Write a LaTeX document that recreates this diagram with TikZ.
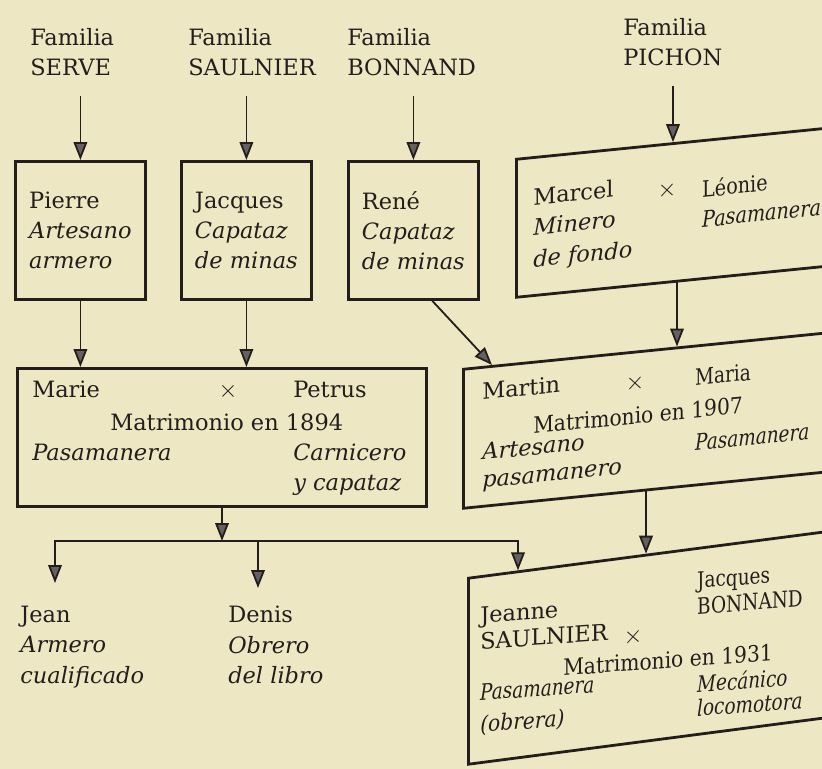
\documentclass[tikz,border=0pt]{standalone}
\usepackage{fontspec}
\setmainfont{DejaVu Serif}
\usepackage{tikz}
\usetikzlibrary{arrows.meta}
\usepackage{xcolor}
\definecolor{paper}{RGB}{238,231,196}
\definecolor{ink}{RGB}{35,30,28}

\tikzset{
	box/.style={draw=ink, line width=0.7mm, inner sep=0pt},
	pbox/.style={box, anchor=north west, align=left, minimum width=32.5mm, minimum height=34.5mm, text=ink},
	txt/.style={inner sep=0pt, anchor=base west, text=ink},
	ntxt/.style={txt, xscale=0.82},
	mtxt/.style={txt, xscale=0.9},
	cross/.style={inner sep=0pt, anchor=base, text=ink},
	lbl/.style={inner sep=0pt, anchor=north west, align=left, text=ink},
	arr/.style={draw=ink, line width=0.45mm, -{Triangle[length=4.5mm,width=3.4mm,fill=ink!70]}},
}

\begin{document}
\begin{tikzpicture}[x=0.25mm, y=-0.25mm, font=\fontsize{16}{21.5}\selectfont]
					\useasboundingbox (0,0) rectangle (822,769);
					\fill[paper] (0,0) rectangle (822,769);
					\clip (0,0) rectangle (822,769);
					
					% familias
					\node[lbl] (serve) at (30,28) {Familia\\SERVE};
					\node[lbl] (saulnier) at (188,28) {Familia\\SAULNIER};
					\node[lbl] (bonnand) at (347,28) {Familia\\BONNAND};
					\node[lbl] (pichon) at (623,18) {Familia\\PICHON};
					
					\node[pbox] (pierre) at (14,160) {Pierre\\\textit{Artesano}\\\textit{armero}};
					\node[pbox] (jacques) at (180,160) {Jacques\\\textit{Capataz}\\\textit{de minas}};
					\node[pbox] (rene) at (347,160) {René\\\textit{Capataz}\\\textit{de minas}};
					
					\begin{scope}[shift={(515,158)}, yslant=0.1, transform shape, ntxt/.append style={xscale=1.04}]
						\node[box, anchor=north west, minimum width=100mm, minimum height=34.5mm] (marcel) at (0,0) {};
						\coordinate (marcel-in) at (158,0);
						\coordinate (marcel-out) at (162,138);
						\node[txt] (marcel-name) at (18,49) {Marcel};
						\node[txt] (marcel-job) at (18,79) {\textit{Minero}};
						\node[txt] (marcel-job2) at (18,111) {\textit{de fondo}};
						\node[cross] (marcel-x) at (152,54) {$\times$};
						\node[ntxt] (leonie-name) at (187,58) {Léonie};
						\node[ntxt] (leonie-job) at (187,88) {\textit{Pasamanera}};
					\end{scope}
					
					% matrimonio 1894
					\node[box, anchor=north west, minimum width=102.25mm, minimum height=34.5mm] (marie) at (16,367) {};
					\node[txt] (marie-name) at (32,397) {Marie};
					\node[cross] (marie-x) at (228,397) {$\times$};
					\node[txt] (petrus-name) at (293,397) {Petrus};
					\node[txt] (marie-date) at (110,430) {Matrimonio en 1894};
					\node[txt] (marie-job) at (32,460) {\textit{Pasamanera}};
					\node[txt] (petrus-job) at (293,460) {\textit{Carnicero}};
					\node[txt] (petrus-job2) at (293,490) {\textit{y capataz}};
					
					% matrimonio 1907
					\begin{scope}[shift={(462,368)}, yslant=0.1, transform shape]
						\node[box, anchor=north west, minimum width=100mm, minimum height=34.75mm] (martin) at (0,0) {};
						\coordinate (martin-in) at (30,0);
						\coordinate (martin-top) at (215,0);
						\coordinate (martin-out) at (184,139);
						\node[txt] (martin-name) at (20,34) {Martin};
						\node[cross] (martin-x) at (173,39) {$\times$};
						\node[ntxt] (maria-name) at (233,41) {Maria};
						\node[mtxt] (martin-date) at (71,73) {Matrimonio en 1907};
						\node[ntxt] (maria-job) at (233,106) {\textit{Pasamanera}};
						\node[txt] (martin-job) at (20,94) {\textit{Artesano}};
						\node[txt] (martin-job2) at (20,122) {\textit{pasamanero}};
					\end{scope}
					
					% matrimonio 1931
					\begin{scope}[shift={(467,577)}, yslant=0.13, transform shape, txt/.append style={yslant=-0.06}]
						\node[box, anchor=north west, minimum width=100mm, minimum height=46.5mm] (jeanne) at (0,0) {};
						\coordinate (jeanne-in) at (51,0);
						\coordinate (jeanne-top) at (179,0);
						\node[txt] (jeanne-name) at (13,48) {Jeanne};
						\node[txt] (jeanne-name2) at (13,74) {SAULNIER};
						\node[cross] (jeanne-x) at (166,88) {$\times$};
						\node[ntxt] (jb-name) at (230,41) {Jacques};
						\node[ntxt] (jb-name2) at (230,67) {BONNAND};
						\node[mtxt] (jeanne-date) at (96,111) {Matrimonio en 1931};
						\node[ntxt] (jb-job) at (230,145) {\textit{Mecánico}};
						\node[ntxt] (jb-job2) at (230,169) {\textit{locomotora}};
						\node[ntxt] (jeanne-job) at (13,125) {\textit{Pasamanera}};
						\node[mtxt] (jeanne-job2) at (13,157) {\textit{(obrera)}};
					\end{scope}
					
					% hijos
					\node[lbl] (jean) at (20,606) {Jean\\\textit{Armero}\\\textit{cualificado}};
					\node[lbl] (denis) at (228,606) {Denis\\\textit{Obrero}\\\textit{del libro}};
					\coordinate (fork) at (222,541);
					\coordinate (jean-in) at (55,583);
					\coordinate (denis-in) at (258,588);
					
					\draw[arr, shorten <=5mm] (serve.south -| pierre.north) -- (pierre.north);
					\draw[arr, shorten <=5mm] (saulnier.south -| jacques.north) -- (jacques.north);
					\draw[arr, shorten <=5mm] (bonnand.south -| rene.north) -- (rene.north);
					\draw[arr, shorten <=5mm] (pichon.south -| marcel-in) -- (marcel-in);
					
					\draw[arr] (pierre.south) -- (pierre.south |- marie.north);
					\draw[arr] (jacques.south) -- (jacques.south |- marie.north);
					\draw[arr] (rene.-75) -- (martin-in);
					\draw[arr] (marcel-out) -- (martin-top);
					\draw[arr] (martin-out) -- (jeanne-top);
					
					\draw[arr] (marie.south -| fork) -- (fork);
					\draw[arr] (fork) -| (jean-in);
					\draw[arr] (fork -| denis-in) -- (denis-in);
					\draw[arr] (fork) -| (jeanne-in);
				\end{tikzpicture}
\end{document}
